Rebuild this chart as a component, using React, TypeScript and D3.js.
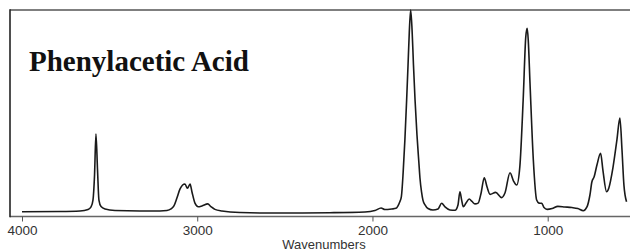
import React, { useEffect, useRef } from 'react';
import * as d3 from 'd3';

// IR spectrum, grouped by region (cm-1 / absorbance)
const wavenumbers: number[] = [
  4000, 3783, 3669, 3623, 3606, 3595, 3586, 3578, 3569, 3561, 3549, 3526, 3469, 3327,
  3213, 3173, 3150, 3133, 3116, 3098, 3070, 3056, 3041, 3030, 3013, 2994, 2973, 2940, 2922, 2899, 2859,
  2756, 2528, 2243, 2043, 1986, 1951, 1929, 1889, 1866,
  1856, 1845, 1835, 1825, 1815, 1805, 1797, 1790, 1782, 1774, 1766, 1757, 1746, 1735, 1729, 1720, 1712, 1700, 1683,
  1655, 1626, 1605, 1586, 1558, 1529, 1512, 1501, 1491, 1482, 1466, 1448, 1432, 1415, 1397, 1380, 1362, 1346, 1329, 1297, 1263, 1244, 1215, 1195, 1177,
  1159, 1140, 1125, 1117, 1111, 1101, 1082, 1063, 1050, 1034, 1021, 1003,
  975, 942, 902, 862, 828, 797, 776, 759, 748, 735, 719, 698, 685, 664, 651, 628, 605, 588, 576, 565, 550,
];

const absorbance: number[] = [
  0.0015, 0.0025, 0.005, 0.012, 0.025, 0.059, 0.183, 0.385, 0.207, 0.059, 0.027, 0.015, 0.0074, 0.005,
  0.005, 0.0074, 0.015, 0.03, 0.069, 0.114, 0.138, 0.117, 0.138, 0.099, 0.044, 0.026, 0.03, 0.04, 0.027, 0.013, 0.005,
  -0.0025, -0.005, -0.0035, 0, 0.007, 0.02, 0.012, 0.015, 0.018,
  0.028, 0.048, 0.076, 0.193, 0.356, 0.553, 0.726, 0.884, 0.9975, 0.899, 0.726, 0.553, 0.38, 0.242, 0.168, 0.099, 0.059, 0.035, 0.017,
  0.01, 0.015, 0.043, 0.025, 0.01, 0.0084, 0.035, 0.1, 0.059, 0.026, 0.044, 0.064, 0.052, 0.04, 0.044, 0.094, 0.169, 0.123, 0.087, 0.097, 0.071, 0.094, 0.194, 0.153, 0.133,
  0.224, 0.553, 0.866, 0.907, 0.849, 0.637, 0.257, 0.059, 0.044, 0.043, 0.022, 0.013,
  0.017, 0.028, 0.025, 0.022, 0.017, 0.0064, 0.025, 0.084, 0.148, 0.174, 0.232, 0.29, 0.207, 0.1, 0.119, 0.217, 0.356, 0.464, 0.306, 0.133, 0.051,
];

const tickValues: number[] = [4000, 3000, 2000, 1000];
const title = 'Phenylacetic Acid';
const xLabel = 'Wavenumbers';

const width = 630;
const height = 252;

const Spectrum = () => {
  const svgRef = useRef<SVGSVGElement>(null);

  useEffect(() => {
    const svg = d3.select(svgRef.current);
    svg.selectAll('*').remove();

    const frame = { left: 10, top: 10, bottom: 216.5 };

    // x runs high -> low, plot is cropped on the right
    const x = d3.scaleLinear().domain([4000, 1000]).range([22, 547.7]);
    const y = d3.scaleLinear().domain([0, 1]).range([212, 9.5]);

    const points = wavenumbers.map((w, i) => ({ w, a: absorbance[i] }));

    // Frame
    svg.append('line')
      .attr('x1', frame.left).attr('x2', width)
      .attr('y1', frame.top).attr('y2', frame.top)
      .attr('stroke', '#555').attr('stroke-width', 1.6);
    svg.append('line')
      .attr('x1', frame.left).attr('x2', width)
      .attr('y1', frame.bottom).attr('y2', frame.bottom)
      .attr('stroke', '#666').attr('stroke-width', 1.4);
    svg.append('line')
      .attr('x1', frame.left).attr('x2', frame.left)
      .attr('y1', frame.top - 0.8).attr('y2', frame.bottom + 0.7)
      .attr('stroke', '#222').attr('stroke-width', 1.6);

    // Spectrum trace
    const line = d3.line<{ w: number; a: number }>()
      .x(d => x(d.w))
      .y(d => y(d.a))
      .curve(d3.curveMonotoneX);

    svg.append('path')
      .datum(points)
      .attr('d', line)
      .attr('fill', 'none')
      .attr('stroke', '#1a1a1a')
      .attr('stroke-width', 1.6)
      .attr('stroke-linejoin', 'round');

    // Bottom axis
    const axis = svg.append('g')
      .attr('transform', `translate(0,${frame.bottom})`)
      .call(d3.axisBottom(x).tickValues(tickValues).tickSize(5).tickPadding(4).tickFormat(d3.format('d')));
    axis.select('.domain').remove();
    axis.selectAll('line').attr('stroke', '#555');
    axis.selectAll('text')
      .attr('fill', '#333')
      .attr('font-family', '"Liberation Sans", Arial, sans-serif')
      .attr('font-size', '13.5px');

    // Axis label, sitting on the picture's bottom edge
    svg.append('text')
      .attr('x', 324)
      .attr('y', 248.5)
      .attr('text-anchor', 'middle')
      .attr('fill', '#333')
      .attr('font-family', '"Liberation Sans", Arial, sans-serif')
      .attr('font-size', '13px')
      .text(xLabel);

    // Title
    svg.append('text')
      .attr('x', 29)
      .attr('y', 70.5)
      .attr('fill', '#111')
      .attr('font-family', '"Liberation Serif", "Times New Roman", serif')
      .attr('font-weight', 'bold')
      .attr('font-size', '29px')
      .text(title);
  }, []);

  return (
    <svg
      ref={svgRef}
      width={width}
      height={height}
      style={{ position: 'absolute', left: 0, top: 0, background: '#fff' }}
    />
  );
};

export default function App() {
  return <Spectrum />;
}
